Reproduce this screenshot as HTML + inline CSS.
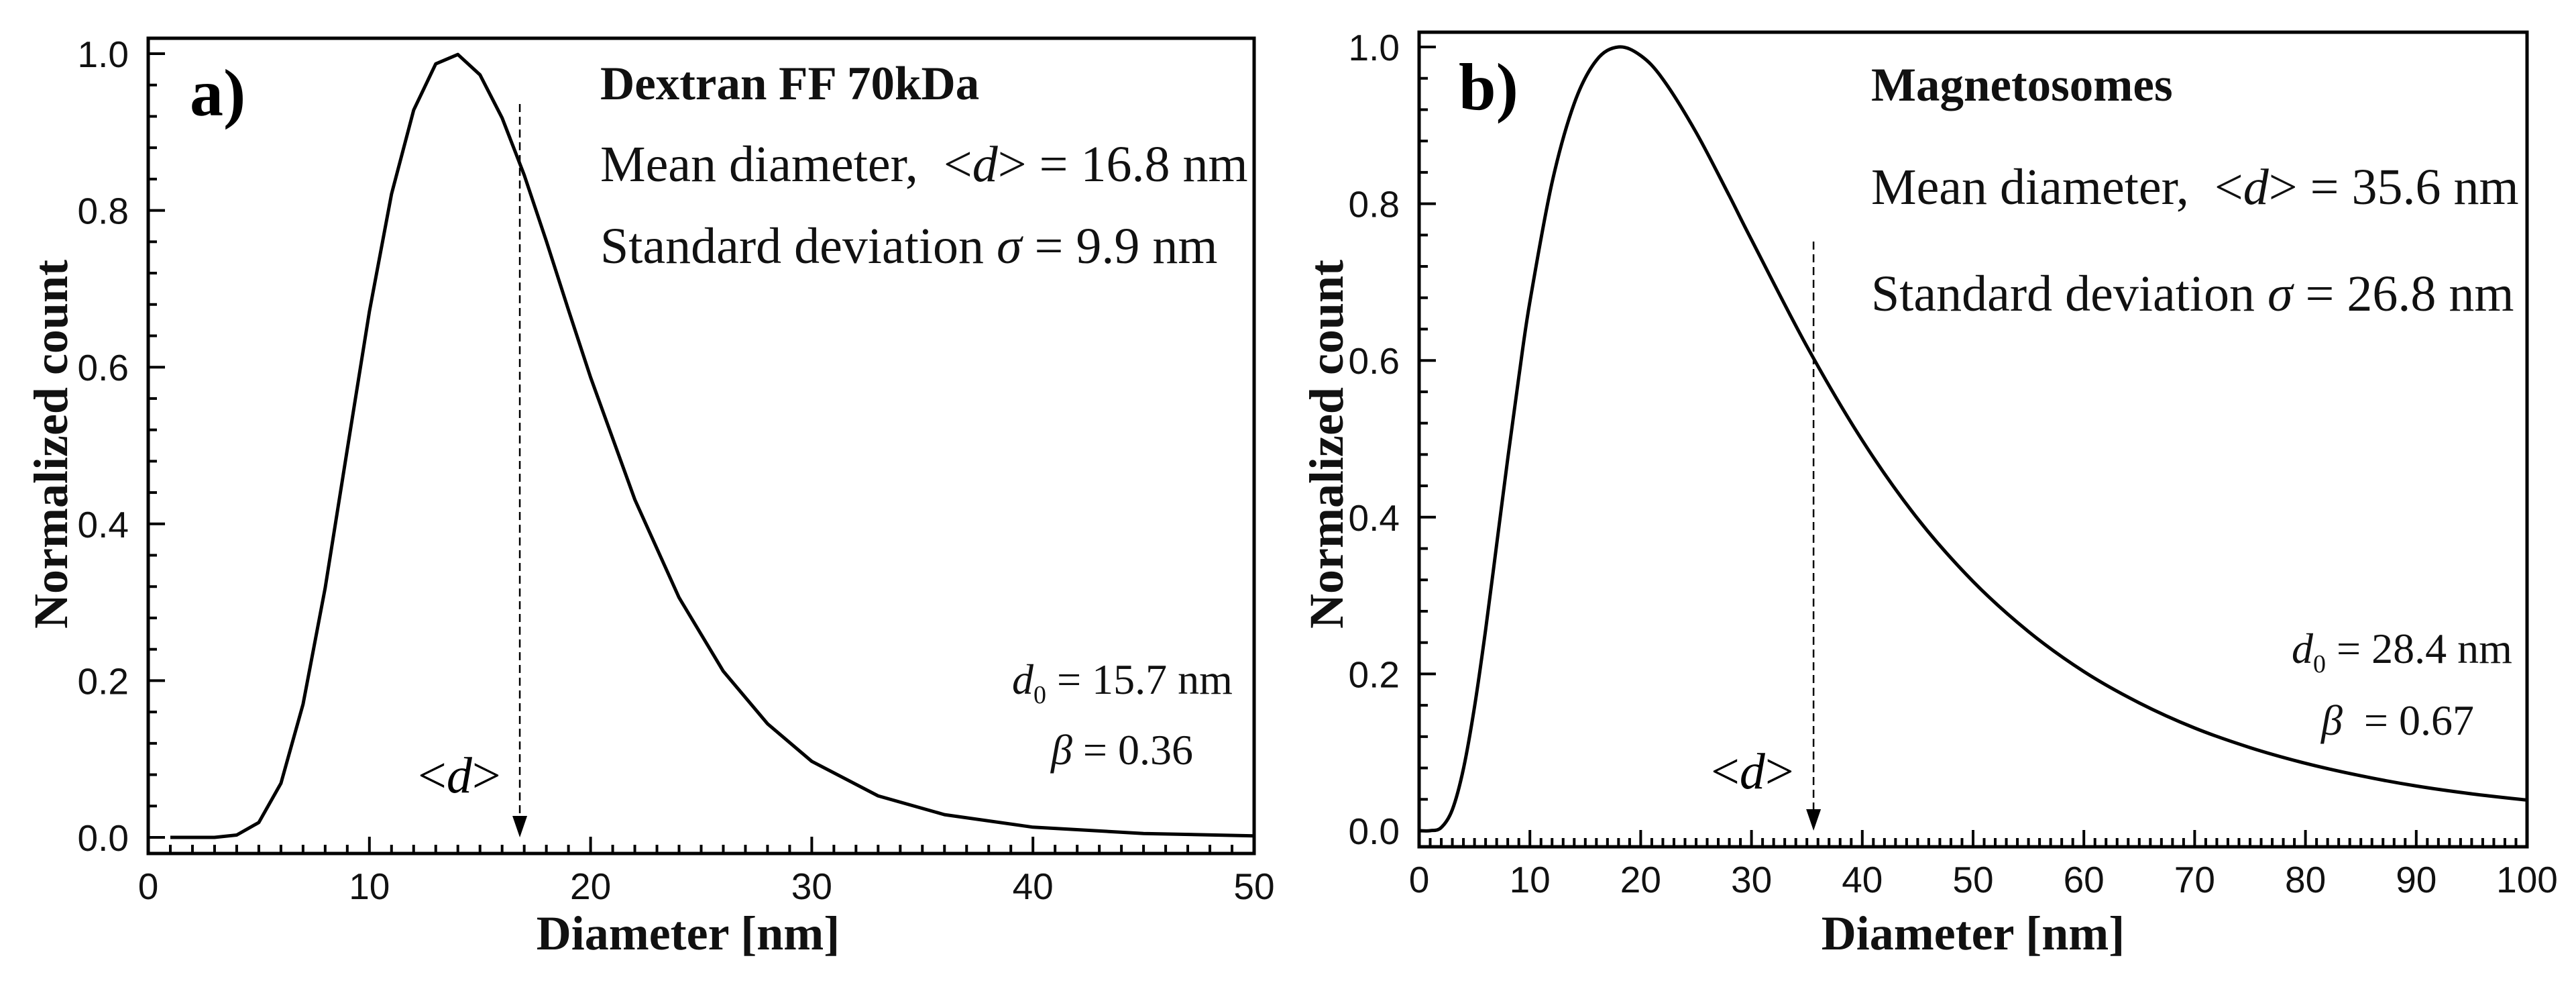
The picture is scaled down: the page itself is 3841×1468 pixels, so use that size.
<!DOCTYPE html>
<html><head><meta charset="utf-8"><style>
html,body{margin:0;padding:0;background:#fff;}
svg{display:block;}
.tick{font-family:"Liberation Sans",sans-serif;font-size:55px;fill:#111;}
.title{font-family:"Liberation Serif",serif;font-weight:bold;font-size:72px;fill:#111;}
.ann{font-family:"Liberation Serif",serif;font-size:76px;fill:#111;}
.annb{font-family:"Liberation Serif",serif;font-size:71px;font-weight:bold;fill:#111;}
.small{font-family:"Liberation Serif",serif;font-size:64px;fill:#111;}
</style></head><body>
<svg id="fig" width="3841" height="1468" viewBox="0 0 3841 1468" xmlns="http://www.w3.org/2000/svg">
<g id="pa"></g>
<g id="pb"></g>
<text class="title" x="1026" y="1415" text-anchor="middle">Diameter [nm]</text>
<text class="title" transform="translate(100,662) rotate(-90)" text-anchor="middle">Normalized count</text>
<text class="title" x="2942" y="1415" text-anchor="middle">Diameter [nm]</text>
<text class="title" transform="translate(2002,662) rotate(-90)" text-anchor="middle">Normalized count</text>
<text x="283" y="172" font-family="Liberation Serif,serif" font-weight="bold" font-size="100">a)</text>
<text x="2175" y="163" font-family="Liberation Serif,serif" font-weight="bold" font-size="100">b)</text>
<text class="annb" x="895" y="148">Dextran FF 70kDa</text>
<text class="ann" x="895" y="270">Mean diameter,&#160;&#160;&lt;<tspan font-style="italic">d</tspan>&gt; = 16.8 nm</text>
<text class="ann" x="895" y="392">Standard deviation <tspan font-style="italic">σ</tspan> = 9.9 nm</text>
<text class="small" x="1509" y="1034"><tspan font-style="italic">d</tspan><tspan font-size="38" dy="14">0</tspan><tspan dy="-14"> = 15.7 nm</tspan></text>
<text class="small" x="1567" y="1139"><tspan font-style="italic">β</tspan> = 0.36</text>
<text x="623" y="1181" font-family="Liberation Serif,serif" font-size="76">&lt;<tspan font-style="italic">d</tspan>&gt;</text>
<text class="annb" x="2790" y="150">Magnetosomes</text>
<text class="ann" x="2790" y="304">Mean diameter,&#160;&#160;&lt;<tspan font-style="italic">d</tspan>&gt; = 35.6 nm</text>
<text class="ann" x="2790" y="463">Standard deviation <tspan font-style="italic">σ</tspan> = 26.8 nm</text>
<text class="small" x="3417" y="988"><tspan font-style="italic">d</tspan><tspan font-size="38" dy="14">0</tspan><tspan dy="-14"> = 28.4 nm</tspan></text>
<text class="small" x="3461" y="1095"><tspan font-style="italic">β</tspan>&#160; = 0.67</text>
<text x="2551" y="1175" font-family="Liberation Serif,serif" font-size="76">&lt;<tspan font-style="italic">d</tspan>&gt;</text>
</svg>
<script>
const xA = [1,2,3,4,5,6,7,8,9,10,11,12,13,14,15,16,17,18,19,20,22,24,26,28,30,33,36,40,45,50];
const yA = [0,0,0,0.003,0.019,0.069,0.17,0.318,0.495,0.671,0.821,0.928,0.987,0.999,0.973,0.918,0.845,0.761,0.673,0.587,0.431,0.306,0.212,0.145,0.097,0.053,0.029,0.013,0.005,0.002];
const xB = [0,1,2,3,4,5,6,7,8,9,10,12,14,16,18,20,22,25,28,30,35,40,45,50,55,60,65,70,75,80,85,90,95,100];
const yB = [0,0,0.004,0.027,0.079,0.158,0.256,0.365,0.475,0.579,0.675,0.827,0.928,0.983,1.0,0.989,0.959,0.891,0.81,0.754,0.618,0.498,0.398,0.318,0.254,0.203,0.163,0.131,0.106,0.086,0.070,0.057,0.047,0.039];
const yTicks = [0,0.2,0.4,0.6,0.8,1.0];
const yTickLabels = ["0.0","0.2","0.4","0.6","0.8","1.0"];
const xTicksA = [0,10,20,30,40,50];
const xTicksB = [0,10,20,30,40,50,60,70,80,90,100];
const meanA = 16.8, meanB = 35.6;
const NS='http://www.w3.org/2000/svg';
function mk(tag, attrs, parent){const e=document.createElementNS(NS,tag);for(const k in attrs)e.setAttribute(k,attrs[k]);parent.appendChild(e);return e;}
function panel(g, cfg, xs, ys, xTicks, mean, dashTop, pfx, smooth){
  const sx=v=>cfg.x0+(v-cfg.xmin)/(cfg.xmax-cfg.xmin)*(cfg.x1-cfg.x0);
  const sy=v=>cfg.y0-v*(cfg.y0-cfg.y1);
  const fr=mk('rect',{x:cfg.x0,y:cfg.top,width:cfg.x1-cfg.x0,height:cfg.bot-cfg.top,fill:'none',stroke:'#000','stroke-width':5},g);
  
  
  for(let i=0;i<=25;i++){const v=i*0.04;const y=sy(v);const major=(i%5===0);
    const t=mk('line',{x1:cfg.x0,x2:cfg.x0+(major?25:13),y1:y,y2:y,stroke:'#000','stroke-width':4},g);
    
    }
  yTicks.forEach((v,i)=>{const t=mk('text',{x:cfg.x0-29,y:sy(v)+20,'text-anchor':'end',class:'tick'},g);t.textContent=yTickLabels[i];
    
    });
  for(let v=cfg.xmin;v<=cfg.xmax;v++){const x=sx(v);const major=(v%10===0);
    const t=mk('line',{x1:x,x2:x,y1:cfg.bot,y2:cfg.bot-(major?25:13),stroke:'#000','stroke-width':4},g);
    
    }
  xTicks.forEach(v=>{const t=mk('text',{x:sx(v),y:cfg.bot+68,'text-anchor':'middle',class:'tick'},g);t.textContent=String(v);
    
    });
  const P=xs.map((v,i)=>[sx(v),sy(ys[i])]);
  let d='M'+P[0][0].toFixed(1)+','+P[0][1].toFixed(1);
  for(let i=1;i<P.length;i++){
    if(smooth){const p0=P[Math.max(0,i-2)],p1=P[i-1],p2=P[i],p3=P[Math.min(P.length-1,i+1)];
      const c1=[p1[0]+(p2[0]-p0[0])/6,p1[1]+(p2[1]-p0[1])/6],c2=[p2[0]-(p3[0]-p1[0])/6,p2[1]-(p3[1]-p1[1])/6];
      d+='C'+c1[0].toFixed(1)+','+c1[1].toFixed(1)+' '+c2[0].toFixed(1)+','+c2[1].toFixed(1)+' '+p2[0].toFixed(1)+','+p2[1].toFixed(1);}
    else d+='L'+P[i][0].toFixed(1)+','+P[i][1].toFixed(1);}
  const p=mk('path',{d:d,fill:'none',stroke:'#000','stroke-width':5,'stroke-linejoin':'round'},g);
  
  
  const mx=sx(mean);
  const dl=mk('line',{x1:mx,x2:mx,y1:dashTop,y2:sy(0)-28,stroke:'#000','stroke-width':2.5,'stroke-dasharray':'12 7'},g);
  
  
  const ah=mk('polygon',{points:`${mx-11},${sy(0)-32} ${mx+11},${sy(0)-32} ${mx},${sy(0)}`,fill:'#000'},g);
  
  
}
panel(document.getElementById('pa'),{x0:221,x1:1870,xmin:0,xmax:50,y0:1248,y1:80,top:57,bot:1272},xA,yA,xTicksA,meanA,155,'panel-a',false);
panel(document.getElementById('pb'),{x0:2116,x1:3768,xmin:0,xmax:100,y0:1238,y1:70,top:48,bot:1262},xB,yB,xTicksB,meanB,360,'panel-b',true);
</script>
</body></html>
